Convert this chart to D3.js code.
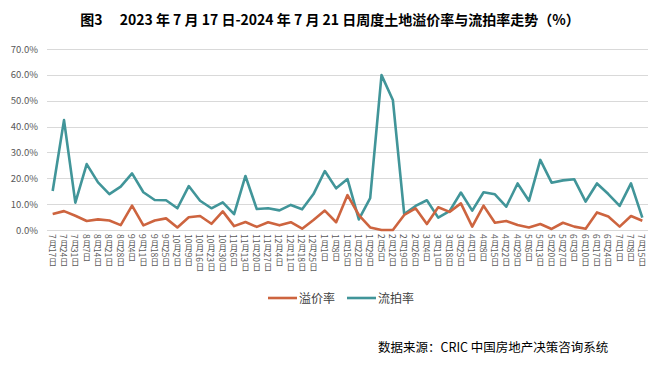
<!DOCTYPE html>
<html>
<head>
<meta charset="utf-8">
<script src="https://cdn.jsdelivr.net/npm/d3@7"></script>
<style>
body { margin: 0; background: #fff; }
svg { display: block; font-family: "Noto Sans CJK SC", "Noto Sans", sans-serif; }
</style>
</head>
<body>
<svg width="659" height="366"></svg>
<script>
var dates = ["7月17日","7月24日","7月31日","8月7日","8月14日","8月21日","8月28日","9月4日","9月11日","9月18日","9月25日",
	"10月2日","10月9日","10月16日","10月23日","10月30日","11月6日","11月13日","11月20日","11月27日","12月4日","12月11日",
	"12月18日","12月25日","1月1日","1月8日","1月15日","1月22日","1月29日","2月5日","2月12日","2月19日","2月26日",
	"3月4日","3月11日","3月18日","3月25日","4月1日","4月8日","4月15日","4月22日","4月29日","5月6日","5月13日",
	"5月20日","5月27日","6月3日","6月10日","6月17日","6月24日","7月1日","7月8日","7月15日"];

// 溢价率 (%)
var premium = [6.2,7.3,5.5,3.5,4.1,3.7,1.9,9.4,1.8,3.7,4.5,1.0,4.9,5.4,2.4,7.2,1.5,3.1,1.2,3.0,1.8,3.0,0.5,3.9,
	7.5,3.0,13.5,5.8,1.0,0.0,0.0,5.8,8.4,2.3,8.8,7.0,10.3,1.3,9.4,2.8,3.5,1.9,1.0,2.3,0.4,2.8,1.3,0.5,6.8,5.2,
	1.3,5.4,3.6];

// 流拍率 (%)
var unsold = [15.1,42.5,10.6,25.5,18.4,13.9,16.8,21.9,14.6,11.6,11.5,8.4,17.0,11.3,8.4,10.7,6.1,20.9,8.1,8.4,7.6,9.7,
	8.0,13.9,22.8,16.1,19.7,4.1,12.3,59.9,50.3,6.2,9.3,11.5,4.8,7.3,14.5,7.5,14.6,13.8,9.0,18.0,11.3,27.1,18.3,
	19.2,19.6,11.0,18.0,13.9,9.3,18.0,4.8];

var yTicks = [0,10,20,30,40,50,60,70];

var svg = d3.select("svg");
// plot box (don't call it "top", window.top is read only)
var plotL = 47, plotR = 648, plotT = 49, plotB = 230;

var x = d3.scaleBand().domain(dates).range([plotL, plotR]);
var y = d3.scaleLinear().domain([0, 70]).range([plotB, plotT]);

//title
svg.append("text")
	.attr("x", 330).attr("y", 25)
	.attr("text-anchor", "middle")
	.attr("font-size", 14)
	.attr("font-weight", "bold")
	.attr("fill", "#000")
	.text("图3　 2023 年 7 月 17 日-2024 年 7 月 21 日周度土地溢价率与流拍率走势（%）");

//gridlines
svg.append("g")
	.selectAll("line")
	.data(yTicks)
	.enter().append("line")
	.attr("x1", plotL).attr("x2", plotR)
	.attr("y1", function(d) { return Math.round(y(d)) + 0.5; })
	.attr("y2", function(d) { return Math.round(y(d)) + 0.5; })
	.attr("stroke", "#d9d9d9")
	.attr("stroke-width", 1);

//y labels
svg.append("g")
	.selectAll("text")
	.data(yTicks)
	.enter().append("text")
	.attr("x", 38)
	.attr("y", function(d) { return y(d) + 3.5; })
	.attr("text-anchor", "end")
	.attr("font-size", 9.5)
	.attr("fill", "#595959")
	.text(function(d) { return d.toFixed(1) + "%"; });

//x labels: stacked vertically, chinese upright and digits turned sideways
var fs = 8.5;
var xLabels = svg.append("g").attr("fill", "#595959").attr("font-size", fs);
dates.forEach(function(d) {
	var cx = x(d) + x.bandwidth() / 2;
	var cursor = 234;
	var tokens = d.match(/\d+|\D/g);
	tokens.forEach(function(t) {
		if (/\d/.test(t)) {
			var tt = xLabels.append("text")
				.attr("transform", "translate(" + cx + "," + cursor + ") rotate(90)")
				.attr("dominant-baseline", "central")
				.text(t);
			cursor += tt.node().getComputedTextLength() + 0.5;
		} else {
			xLabels.append("text")
				.attr("x", cx)
				.attr("y", cursor + fs * 0.86)
				.attr("text-anchor", "middle")
				.text(t);
			cursor += fs;
		}
	});
});

var line = d3.line()
	.x(function(d, i) { return x(dates[i]) + x.bandwidth() / 2; })
	.y(function(d) { return y(d); });

var orange = "#cd643f", teal = "#419599";

svg.append("path")
	.datum(unsold)
	.attr("d", line)
	.attr("fill", "none")
	.attr("stroke", teal)
	.attr("stroke-width", 2.6)
	.attr("stroke-linejoin", "round");

svg.append("path")
	.datum(premium)
	.attr("d", line)
	.attr("fill", "none")
	.attr("stroke", orange)
	.attr("stroke-width", 2.6)
	.attr("stroke-linejoin", "round");

//legend
var legend = [["溢价率", orange, 268], ["流拍率", teal, 347]];
legend.forEach(function(l) {
	svg.append("line")
		.attr("x1", l[2]).attr("x2", l[2] + 29)
		.attr("y1", 298).attr("y2", 298)
		.attr("stroke", l[1])
		.attr("stroke-width", 2.6);
	svg.append("text")
		.attr("x", l[2] + 31).attr("y", 302.5)
		.attr("font-size", 12)
		.attr("fill", "#404040")
		.text(l[0]);
});

//source
svg.append("text")
	.attr("x", 378).attr("y", 352)
	.attr("font-size", 12.5)
	.attr("fill", "#000")
	.text("数据来源：CRIC 中国房地产决策咨询系统");
</script>
</body>
</html>
